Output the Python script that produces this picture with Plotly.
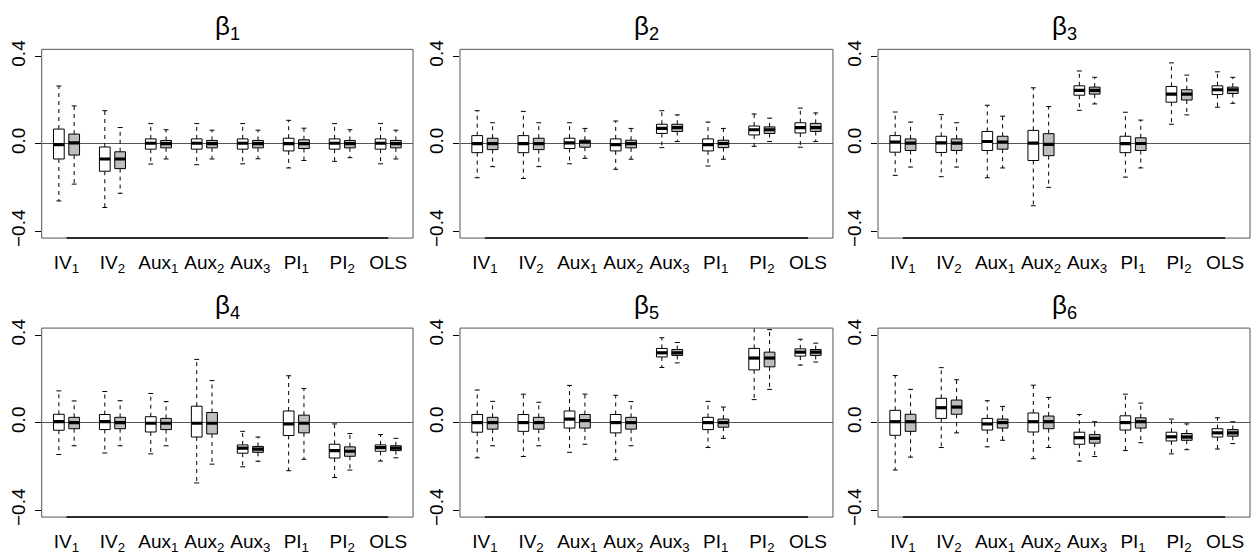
import plotly.graph_objects as go

methods = ["IV<sub>1</sub>", "IV<sub>2</sub>", "Aux<sub>1</sub>", "Aux<sub>2</sub>", "Aux<sub>3</sub>",
           "PI<sub>1</sub>", "PI<sub>2</sub>", "OLS"]
titles = ["β<sub>1</sub>", "β<sub>2</sub>", "β<sub>3</sub>", "β<sub>4</sub>", "β<sub>5</sub>", "β<sub>6</sub>"]
y_tick_vals = [-0.4, 0.0, 0.4]
y_tick_text = ["\u22120.4", "0.0", "0.4"]

# order of the 16 boxes: IV1 (white, grey), IV2 (white, grey), Aux1, Aux2, Aux3, PI1, PI2, OLS
b1_low = [-0.262, -0.185, -0.292, -0.227, -0.093, -0.070, -0.096, -0.070, -0.092, -0.069, -0.111, -0.077, -0.081, -0.064, -0.092, -0.070]
b1_q1 = [-0.070, -0.052, -0.126, -0.114, -0.025, -0.019, -0.025, -0.019, -0.025, -0.019, -0.033, -0.022, -0.025, -0.019, -0.025, -0.019]
b1_med = [-0.004, 0.004, -0.070, -0.070, 0.002, 0.0, 0.002, 0.0, 0.002, 0.0, 0.0, 0.0, 0.002, 0.0, 0.002, 0.0]
b1_q3 = [0.067, 0.044, -0.015, -0.037, 0.022, 0.015, 0.022, 0.015, 0.022, 0.015, 0.025, 0.018, 0.022, 0.015, 0.022, 0.015]
b1_high = [0.264, 0.173, 0.151, 0.074, 0.092, 0.064, 0.092, 0.062, 0.092, 0.062, 0.107, 0.071, 0.092, 0.064, 0.092, 0.062]

b2_low = [-0.156, -0.105, -0.159, -0.105, -0.092, -0.067, -0.117, -0.071, -0.018, 0.010, -0.102, -0.071, -0.012, 0.010, -0.016, 0.010]
b2_q1 = [-0.041, -0.027, -0.041, -0.027, -0.022, -0.016, -0.033, -0.019, 0.047, 0.056, -0.033, -0.018, 0.040, 0.047, 0.049, 0.056]
b2_med = [0.0, 0.0, 0.0, 0.0, 0.004, 0.007, -0.004, 0.0, 0.070, 0.074, -0.004, 0.001, 0.064, 0.064, 0.074, 0.074]
b2_q3 = [0.037, 0.025, 0.037, 0.025, 0.025, 0.016, 0.022, 0.016, 0.089, 0.089, 0.022, 0.016, 0.081, 0.077, 0.096, 0.093]
b2_high = [0.151, 0.096, 0.148, 0.096, 0.096, 0.070, 0.104, 0.070, 0.151, 0.132, 0.099, 0.070, 0.136, 0.117, 0.163, 0.141]

b3_low = [-0.145, -0.107, -0.151, -0.107, -0.156, -0.111, -0.284, -0.200, 0.153, 0.182, -0.153, -0.111, 0.089, 0.132, 0.167, 0.185]
b3_q1 = [-0.039, -0.031, -0.040, -0.031, -0.031, -0.025, -0.077, -0.055, 0.222, 0.227, -0.041, -0.031, 0.190, 0.200, 0.225, 0.230]
b3_med = [0.007, 0.003, 0.004, 0.003, 0.010, 0.007, 0.003, -0.003, 0.244, 0.244, 0.0, 0.001, 0.227, 0.227, 0.247, 0.247]
b3_q3 = [0.037, 0.022, 0.034, 0.022, 0.056, 0.034, 0.061, 0.046, 0.265, 0.259, 0.034, 0.027, 0.262, 0.247, 0.265, 0.259]
b3_high = [0.145, 0.099, 0.133, 0.096, 0.176, 0.126, 0.256, 0.170, 0.333, 0.304, 0.144, 0.108, 0.370, 0.314, 0.329, 0.304]

b4_low = [-0.146, -0.106, -0.139, -0.106, -0.143, -0.106, -0.276, -0.190, -0.202, -0.177, -0.220, -0.168, -0.251, -0.217, -0.176, -0.161]
b4_q1 = [-0.035, -0.028, -0.032, -0.028, -0.043, -0.032, -0.066, -0.052, -0.140, -0.136, -0.059, -0.047, -0.162, -0.154, -0.131, -0.128]
b4_med = [0.004, 0.0, 0.004, 0.0, -0.003, -0.003, -0.003, -0.003, -0.117, -0.121, -0.006, -0.003, -0.128, -0.131, -0.114, -0.117]
b4_q3 = [0.038, 0.024, 0.037, 0.024, 0.027, 0.019, 0.075, 0.046, -0.102, -0.109, 0.053, 0.034, -0.099, -0.111, -0.102, -0.106]
b4_high = [0.145, 0.099, 0.142, 0.100, 0.133, 0.096, 0.289, 0.192, -0.040, -0.066, 0.214, 0.156, -0.006, -0.050, -0.055, -0.072]

b5_low = [-0.161, -0.106, -0.155, -0.106, -0.136, -0.099, -0.170, -0.106, 0.252, 0.273, -0.114, -0.072, 0.105, 0.152, 0.263, 0.277]
b5_q1 = [-0.044, -0.030, -0.040, -0.030, -0.025, -0.025, -0.047, -0.030, 0.300, 0.307, -0.032, -0.021, 0.241, 0.255, 0.304, 0.307]
b5_med = [0.0, 0.0, 0.0, 0.0, 0.016, 0.009, 0.0, 0.0, 0.319, 0.319, 0.0, 0.0, 0.295, 0.295, 0.322, 0.322]
b5_q3 = [0.037, 0.024, 0.037, 0.024, 0.053, 0.037, 0.037, 0.024, 0.339, 0.334, 0.024, 0.016, 0.339, 0.322, 0.337, 0.334]
b5_high = [0.149, 0.097, 0.130, 0.093, 0.170, 0.130, 0.125, 0.096, 0.388, 0.366, 0.097, 0.071, 0.460, 0.425, 0.381, 0.363]

b6_low = [-0.217, -0.158, -0.114, -0.047, -0.111, -0.081, -0.165, -0.114, -0.176, -0.155, -0.128, -0.092, -0.143, -0.124, -0.121, -0.096]
b6_q1 = [-0.058, -0.040, 0.019, 0.038, -0.034, -0.025, -0.043, -0.028, -0.099, -0.094, -0.034, -0.025, -0.084, -0.081, -0.066, -0.062]
b6_med = [0.004, 0.004, 0.068, 0.071, -0.006, 0.0, 0.004, 0.004, -0.069, -0.072, 0.0, 0.004, -0.065, -0.066, -0.047, -0.047]
b6_q3 = [0.056, 0.038, 0.111, 0.103, 0.019, 0.016, 0.044, 0.030, -0.044, -0.055, 0.031, 0.022, -0.044, -0.050, -0.028, -0.032]
b6_high = [0.215, 0.152, 0.251, 0.196, 0.100, 0.074, 0.171, 0.115, 0.037, 0.004, 0.130, 0.089, 0.016, -0.006, 0.022, 0.004]

panels = [
    (b1_low, b1_q1, b1_med, b1_q3, b1_high),
    (b2_low, b2_q1, b2_med, b2_q3, b2_high),
    (b3_low, b3_q1, b3_med, b3_q3, b3_high),
    (b4_low, b4_q1, b4_med, b4_q3, b4_high),
    (b5_low, b5_q1, b5_med, b5_q3, b5_high),
    (b6_low, b6_q1, b6_med, b6_q3, b6_high),
]

# box positions: pairs at 1,2 / 4,5 / ... / 22,23
positions = []
for k in range(len(methods)):
    positions += [3 * k + 1, 3 * k + 2]
tick_pos = [3 * k + 1.5 for k in range(len(methods))]

fills = ["white", "#bebebe"]
HW = 0.35   # half box width
CW = 0.16   # half cap width

col_dom = [[0.0333, 0.3299], [0.3674, 0.6653], [0.7013, 0.9984]]
row_dom = [[0.5758, 0.9253], [0.0591, 0.4091]]

FONT = "Liberation Sans, Arial, Helvetica, sans-serif"
fig = go.Figure()
shapes = []
annotations = []

for pi, (low, q1, med, q3, high) in enumerate(panels):
    r, c = divmod(pi, 3)
    n = pi + 1
    xa = "x" if n == 1 else f"x{n}"
    ya = "y" if n == 1 else f"y{n}"

    wx, wy = [], []
    cx, cy = [], []
    mx, my = [], []
    for i, p in enumerate(positions):
        wx += [p, p, None, p, p, None]
        wy += [q3[i], high[i], None, q1[i], low[i], None]
        cx += [p - CW, p + CW, None, p - CW, p + CW, None]
        cy += [high[i], high[i], None, low[i], low[i], None]
        mx += [p - HW, p + HW, None]
        my += [med[i], med[i], None]
    fig.add_trace(go.Scatter(x=wx, y=wy, mode="lines", xaxis=xa, yaxis=ya,
                             line=dict(color="black", width=1, dash="4px,4px"),
                             hoverinfo="skip", showlegend=False))
    fig.add_trace(go.Scatter(x=cx, y=cy, mode="lines", xaxis=xa, yaxis=ya,
                             line=dict(color="black", width=1),
                             hoverinfo="skip", showlegend=False))
    for g in range(2):
        bx, by = [], []
        for i in range(g, len(positions), 2):
            p = positions[i]
            bx += [p - HW, p + HW, p + HW, p - HW, p - HW, None]
            by += [q1[i], q1[i], q3[i], q3[i], q1[i], None]
        fig.add_trace(go.Scatter(x=bx, y=by, mode="lines", fill="toself", fillcolor=fills[g],
                                 xaxis=xa, yaxis=ya, line=dict(color="black", width=1),
                                 hoverinfo="skip", showlegend=False))
    fig.add_trace(go.Scatter(x=mx, y=my, mode="lines", xaxis=xa, yaxis=ya,
                             line=dict(color="black", width=3.2),
                             hoverinfo="skip", showlegend=False))

    axkey = "xaxis" if n == 1 else f"xaxis{n}"
    aykey = "yaxis" if n == 1 else f"yaxis{n}"
    fig.layout[axkey] = dict(domain=col_dom[c], anchor=ya, range=[-0.12, 24.12],
                             tickvals=tick_pos, ticktext=methods, ticks="", showgrid=False,
                             zeroline=False, showline=False, ticklabelstandoff=11,
                             tickfont=dict(family=FONT, size=19, color="black"))
    fig.layout[aykey] = dict(domain=row_dom[r], anchor=xa, range=[-0.432, 0.432],
                             tickvals=y_tick_vals, ticktext=y_tick_text, ticks="outside",
                             ticklen=6, tickcolor="black", tickwidth=1, tickangle=-90,
                             showgrid=False, zeroline=True, zerolinecolor="#555555",
                             zerolinewidth=1, showline=False, ticklabelstandoff=2,
                             tickfont=dict(family=FONT, size=19, color="black"))
    shapes.append(dict(type="rect", xref=f"{xa} domain", yref=f"{ya} domain",
                       x0=0, x1=1, y0=0, y1=1, line=dict(color="#555555", width=1),
                       layer="above"))
    shapes.append(dict(type="line", xref=xa, yref=f"{ya} domain",
                       x0=tick_pos[0], x1=tick_pos[-1], y0=0, y1=0,
                       line=dict(color="black", width=1.5), layer="above"))
    annotations.append(dict(text=titles[pi], xref="paper", yref="paper",
                            x=(col_dom[c][0] + col_dom[c][1]) / 2, y=row_dom[r][1],
                            xanchor="center", yanchor="bottom", yshift=3, showarrow=False,
                            font=dict(family=FONT, size=26, color="black")))

fig.update_layout(width=1252, height=558, margin=dict(l=0, r=0, t=0, b=0),
                  paper_bgcolor="white", plot_bgcolor="white",
                  shapes=shapes, annotations=annotations, showlegend=False)
fig.write_html("out.html", config={"displayModeBar": False},
               post_script="document.body.style.margin='0';document.body.style.overflow='hidden';")
